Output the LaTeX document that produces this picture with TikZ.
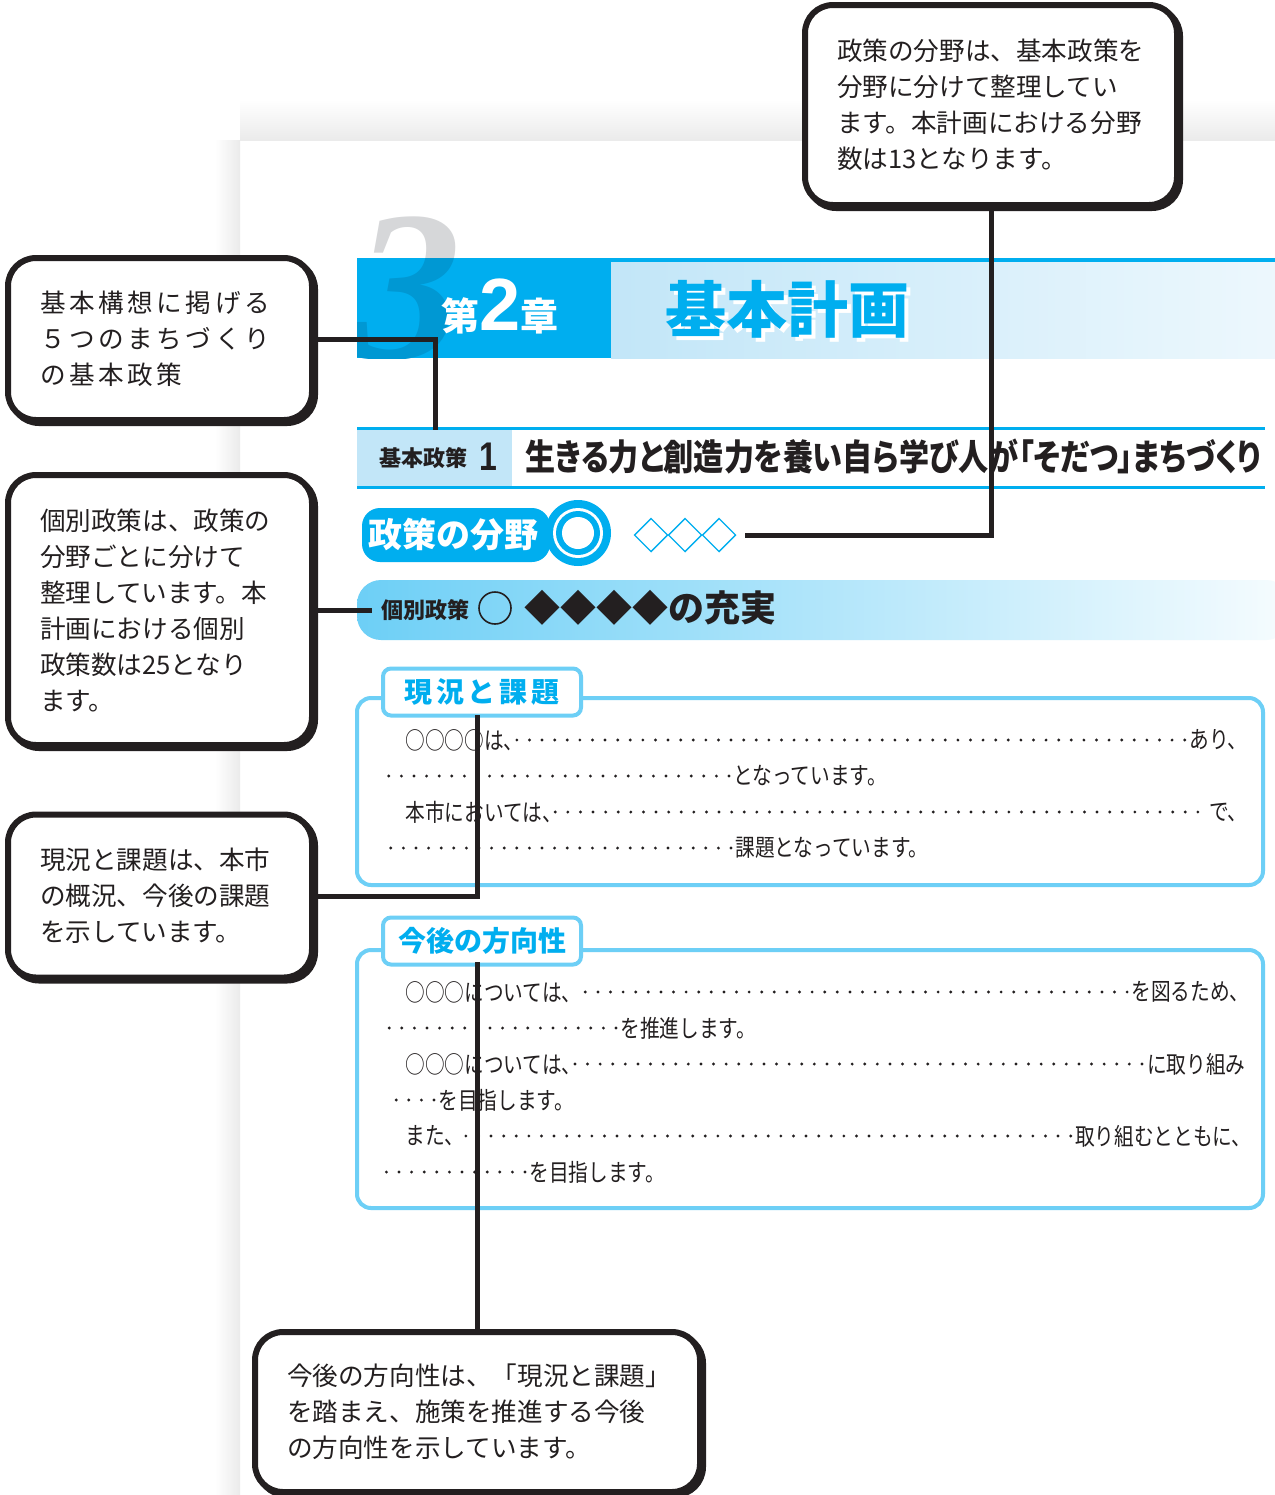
\documentclass[tikz,border=0pt]{standalone}
\usepackage{fontspec}
\setmainfont{Noto Sans CJK JP}
\newfontfamily\minchofont{Noto Sans CJK JP}[FakeStretch=0.82]
\newfontfamily\narrowfont{Noto Sans CJK JP}[FakeStretch=0.836, RawFeature=+palt]
\newfontfamily\numfont{Liberation Serif}
\newfontfamily\latinfont{Liberation Sans}
\newfontfamily\narrowdigit{Liberation Sans}[FakeStretch=0.8]
\usetikzlibrary{positioning}
\definecolor{kcyan}{HTML}{00AEEF}
\definecolor{kline}{HTML}{6DCFF6}
\definecolor{kpale}{HTML}{C2E6F8}
\definecolor{kdeep}{HTML}{0098D3}
\definecolor{kgrey}{HTML}{D6D7D9}
\definecolor{kink}{HTML}{231F20}

\begin{document}
\begin{tikzpicture}[x=0.5pt, y=-0.5pt,
	note/.style={draw=kink, line width=3pt, rounded corners=14pt, fill=white,
		preaction={draw=kink, line width=3pt, transform canvas={shift={(1.5pt,-1.5pt)}}},
		align=left, inner xsep=16pt, font=\fontsize{12.8pt}{18pt}\selectfont, text=kink},
	lead/.style={draw=kink, line width=2.5pt},
	frame/.style={draw=kline, line width=2pt, rounded corners=7pt},
	tab/.style={frame, fill=white, rounded corners=4pt, minimum width=99pt, minimum height=23.5pt,
		font=\bfseries\fontsize{14pt}{14pt}\selectfont, text=kcyan},
	bignum/.style={anchor=base west, inner sep=0pt, font=\numfont\bfseries\itshape\fontsize{107pt}{107pt}\selectfont},
	plan/.style={inner sep=0pt, font=\bfseries\fontsize{30.5pt}{30.5pt}\selectfont},
	body/.style={inner sep=0pt, font=\minchofont\fontsize{12pt}{12pt}\selectfont, text=kink},
	dots/.style={draw=kink, line width=1.6pt, line cap=round, dash pattern=on 0pt off 6.3pt}]
\useasboundingbox (0,0) rectangle (1275,1495);

% PAGE
	\fill[white] (0,0) rectangle (1275,1495);
	\shade[top color=white, bottom color=black!8] (240,100) rectangle (1275,140);
	\shade[left color=white, right color=black!8] (215,140) rectangle (240,1495);

% CHAPTER HEADING
	\begin{scope}
		\clip (340,200) rectangle (620,258);
		\node[bignum, text=kgrey] (chapshade) at (354,358) {3};
	\end{scope}
	\fill[kcyan] (357,258) rectangle (611,358);
	\begin{scope}
		\clip (357,258) rectangle (611,358);
		\node[bignum, text=kdeep] (chapnum) at (354,358) {3};
	\end{scope}
	\fill[kcyan] (611,258) rectangle (1275,262);
	\shade[left color=kpale, right color=kpale!30] (611,262) rectangle (1275,358);
	\node[anchor=base west, inner sep=0pt, text=white, font=\bfseries\fontsize{19pt}{19pt}\selectfont]
		(chaptitle) at (441,330) {第{\latinfont\bfseries\fontsize{37pt}{37pt}\selectfont 2}章};
	\node[plan, text=white] (planshadow) at (791,313) {基本計画};
	\node[plan, text=kcyan] (plantitle) at (787,309) {基本計画};

% BASIC POLICY
	\fill[kpale] (357,429) rectangle (512,487);
	\draw[kcyan, line width=1.5pt] (357,428) -- (1265,428) (357,487) -- (1265,487);
	\node[font=\bfseries\fontsize{11pt}{11pt}\selectfont, text=kink] (basiclabel) at (423,458) {基本政策};
	\node[font=\narrowdigit\bfseries\fontsize{20pt}{20pt}\selectfont, text=kink] (basicno) at (488,457) {1};
	\node[anchor=west, inner sep=0pt, font=\narrowfont\bfseries\fontsize{18pt}{18pt}\selectfont, text=kink]
		(basictitle) at (525,457) {生きる力と創造力を養い自ら学び人が「そだつ」まちづくり};

% POLICY FIELD
	\fill[kcyan, rounded corners=9pt] (362,508) rectangle (550,562);
	\fill[kcyan] (578,533) circle (16.5pt);
	\fill[white] (578,533) circle (12.5pt);
	\fill[kcyan] (578,533) circle (11pt);
	\fill[white] (578,533) circle (8pt);
	\node[font=\bfseries\fontsize{17pt}{17pt}\selectfont, text=white] (fieldlabel) at (453,535) {政策の分野};
	\foreach \i in {0,1,2}
		\draw[kcyan, line width=0.7pt] ({651+34*\i},518.5) -- ++(16.5,16.5) -- ++(-16.5,16.5) -- ++(-16.5,-16.5) -- cycle;

% INDIVIDUAL POLICY
	\shade[left color=kline, right color=kline!6, rounded corners=12pt]
		(1290,580) -- (357,580) -- (357,640) -- (1290,640) -- cycle;
	\node[font=\bfseries\fontsize{11pt}{11pt}\selectfont, text=kink] (indivlabel) at (425,610) {個別政策};
	\draw[kink, line width=0.8pt] (495,608) circle (8pt);
	\node[anchor=west, inner sep=0pt, font=\bfseries\fontsize{18pt}{18pt}\selectfont, text=kink]
		(indivtitle) at (524,608) {◆◆◆◆の充実};

% STATUS AND ISSUES
	\draw[frame] (357,698) rectangle (1263,885);
	\node[tab] (statustab) at (482,692) {\addfontfeature{LetterSpace=14}現況と課題};

	\node[body, anchor=west] (s1a) at (405,740) {○○○○は、};
	\node[body, anchor=east] (s1b) at (1248,740) {あり、};
	\draw[dots] ([xshift=-3.5pt]s1a.east) -- ([xshift=-1pt]s1b.west);
	\coordinate (s2a) at (386,776);
	\node[body, anchor=west] (s2b) at (733,776) {となっています。};
	\draw[dots] ([xshift=-2pt]s2b.west) -- (s2a);
	\node[body, anchor=west] (s3a) at (405,812) {本市においては、};
	\node[body, anchor=east] (s3b) at (1248,812) {で、};
	\draw[dots] ([xshift=-3.5pt]s3a.east) -- ([xshift=-1pt]s3b.west);
	\coordinate (s4a) at (386,848);
	\node[body, anchor=west] (s4b) at (735,848) {課題となっています。};
	\draw[dots] ([xshift=-2pt]s4b.west) -- (s4a);

% FUTURE DIRECTION
	\draw[frame] (357,950) rectangle (1263,1208);
	\node[tab] (futuretab) at (482,941) {今後の方向性};

	\node[body, anchor=west] (f1a) at (405,992) {○○○については、};
	\node[body, anchor=east] (f1b) at (1250,992) {を図るため、};
	\draw[dots] ([xshift=-2pt]f1b.west) -- ([xshift=-3.5pt]f1a.east);
	\coordinate (f2a) at (386,1028);
	\node[body, anchor=west] (f2b) at (620,1028) {を推進します。};
	\draw[dots] ([xshift=-2pt]f2b.west) -- (f2a);
	\node[body, anchor=west] (f3a) at (405,1064) {○○○については、};
	\node[body, anchor=east] (f3b) at (1246,1064) {に取り組み};
	\draw[dots] ([xshift=-3.5pt]f3a.east) -- ([xshift=-1pt]f3b.west);
	\coordinate (f4a) at (386,1100);
	\node[body, anchor=west] (f4b) at (438,1100) {を目指します。};
	\draw[dots] ([xshift=-2pt]f4b.west) -- (f4a);
	\node[body, anchor=west] (f5a) at (405,1136) {また、};
	\node[body, anchor=east] (f5b) at (1252,1136) {取り組むとともに、};
	\draw[dots] ([xshift=-2pt]f5b.west) -- ([xshift=-3.5pt]f5a.east);
	\coordinate (f6a) at (386,1172);
	\node[body, anchor=west] (f6b) at (529,1172) {を目指します。};
	\draw[dots] ([xshift=-2pt]f6b.west) -- (f6a);

% NOTES
	\node[note, text width=154pt, minimum height=100pt] (fieldnote) at (991,105)
		{政策の分野は、基本政策を\\分野に分けて整理してい\\ます。本計画における分野\\数は13となります。};
	\node[note, text width=120pt, minimum height=81pt] (basicnote) at (160,339)
		{\addfontfeature{LetterSpace=14}基本構想に掲げる\\５つのまちづくり\\の基本政策};
	\node[note, text width=120pt, minimum height=135pt] (indivnote) at (160,610)
		{個別政策は、政策の\\分野ごとに分けて\\整理しています。本\\計画における個別\\政策数は25となり\\ます。};
	\node[note, text width=120pt, minimum height=81.5pt] (statusnote) at (160,896)
		{現況と課題は、本市\\の概況、今後の課題\\を示しています。};
	\node[note, text width=190.5pt, minimum height=80pt] (futurenote) at (477.5,1412)
		{今後の方向性は、「現況と課題」\\を踏まえ、施策を推進する今後\\の方向性を示しています。};

% LEADERS
	\coordinate (fieldend) at (745,535);
	\coordinate (basicend) at (435,430);
	\coordinate (indivend) at (372,610);
	\coordinate (statusend) at (477,715);
	\coordinate (futureend) at (477.5,962);
	\draw[lead] (fieldnote.south) |- (fieldend);
	\draw[lead] (basicnote.east) -| (basicend);
	\draw[lead] (indivnote.east) -- (indivend);
	\draw[lead] (statusnote.east) -| (statusend);
	\draw[lead] (futurenote.north) -- (futureend);

\end{tikzpicture}
\end{document}
